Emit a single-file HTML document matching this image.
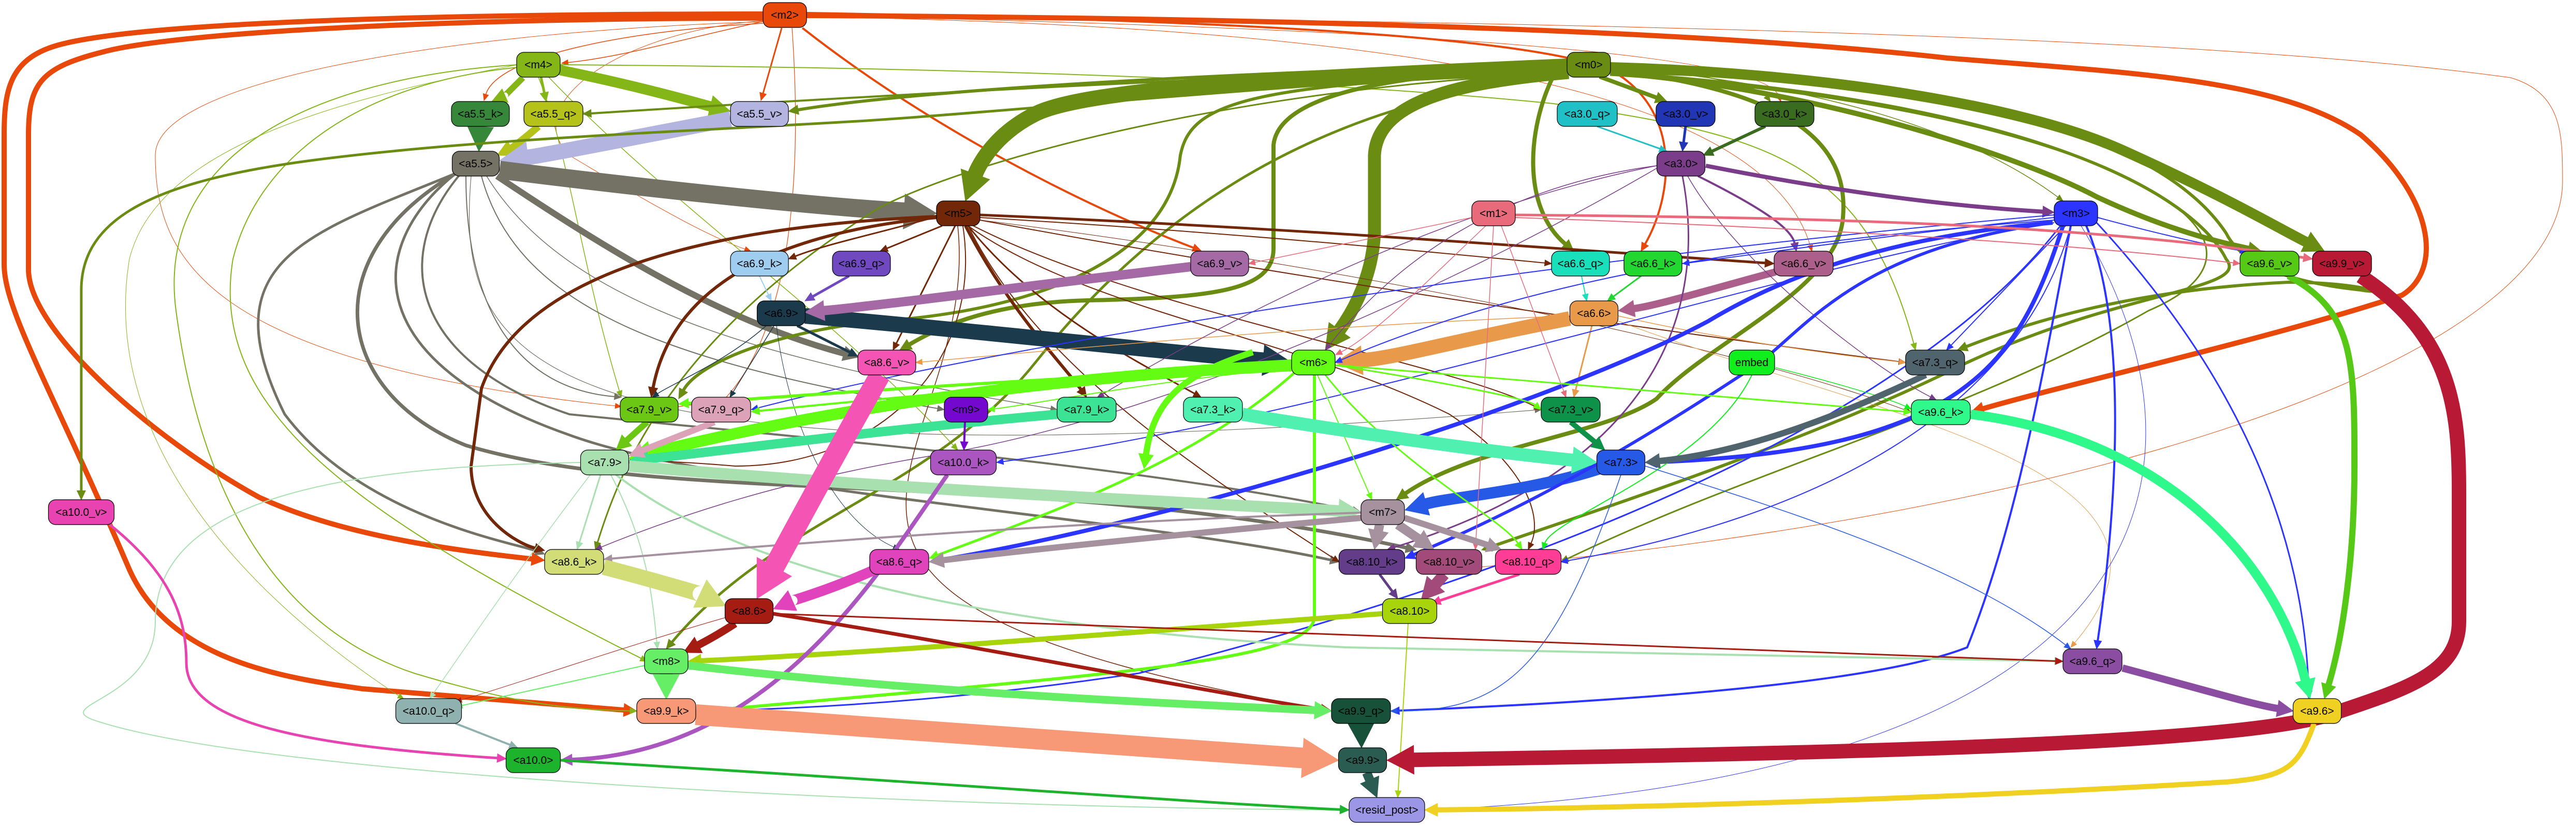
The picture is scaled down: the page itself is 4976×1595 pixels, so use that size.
<!DOCTYPE html>
<html><head><meta charset="utf-8">
<style>
html,body{margin:0;padding:0;background:#fff;}
svg{display:block;}
text{font-family:"Liberation Sans",sans-serif;font-size:21px;fill:#000;}
</style></head>
<body>
<svg id="s" width="4976" height="1595" viewBox="0 0 4976 1595" xmlns="http://www.w3.org/2000/svg">
<rect width="4976" height="1595" fill="#fff"/>
<g id="edges"></g>
<g id="nodes"></g>
</svg>
<script>
var N={
"m2":[1516,29,84,"#e8490a"],"m4":[1040,125,84,"#84b617"],"a5.5_k":[928,220,112,"#36873a"],
"a5.5_q":[1069,220,114,"#b5c21a"],"a5.5_v":[1467,220,112,"#b3b4e0"],"a5.5":[919,316,91,"#747265"],
"a6.9_k":[1467,509,112,"#9fcdef"],"a6.9":[1509,605,93,"#1b3a4c"],"a6.9_q":[1664,509,112,"#7048bf"],
"m5":[1851,412,84,"#722708"],"a6.9_v":[2356,509,112,"#a569a6"],"m1":[2885,412,84,"#e96b7b"],
"m0":[3069,125,84,"#6b8c12"],"a3.0_q":[3066,220,116,"#1fc1c7"],"a3.0_v":[3256,220,114,"#2136b5"],
"a3.0_k":[3447,220,114,"#3a6c20"],"a3.0":[3247,316,93,"#7b3d8a"],"m3":[4010,412,84,"#2c34ff"],
"a6.6_q":[3053,509,112,"#1adfbb"],"a6.6_k":[3193,509,112,"#22d830"],"a6.6_v":[3484,509,114,"#ab5f8a"],
"a6.6":[3079,605,93,"#e89a4a"],"a9.6_v":[4384,509,114,"#56c816"],"a9.9_v":[4524,509,114,"#b81a36"],
"a8.6_v":[1713,700,112,"#f455b4"],"m6":[2537,700,84,"#63fc12"],"embed":[3384,700,88,"#10ef1d"],
"a7.3_q":[3738,700,114,"#4f646d"],"a9.6_k":[3749,796,114,"#2ff98a"],"a7.9_v":[1254,791,112,"#6cc614"],
"a7.9_q":[1393,791,114,"#dba2b8"],"m9":[1866,791,84,"#7508cf"],"a7.9_k":[2099,791,114,"#3ce395"],
"a7.3_k":[2343,791,114,"#4ff0b0"],"a7.3_v":[3034,791,114,"#0e9148"],"a7.9":[1168,893,93,"#a8e0b0"],
"a10.0_k":[1861,893,127,"#ab56c0"],"a7.3":[3131,893,93,"#2659e6"],"a10.0_v":[157,989,127,"#e843b0"],
"m7":[2671,989,84,"#a6919f"],"a8.6_k":[1109,1085,114,"#d3dd78"],"a8.6_q":[1737,1085,114,"#e043bc"],
"a8.10_k":[2650,1085,127,"#633c8a"],"a8.10_v":[2799,1085,127,"#a24b7a"],"a8.10_q":[2952,1085,127,"#ff3d96"],
"a8.6":[1447,1180,93,"#a51c12"],"a8.10":[2723,1180,105,"#a8d40c"],"m8":[1287,1277,84,"#66ef66"],
"a9.6_q":[4042,1277,114,"#8a4da2"],"a10.0_q":[828,1373,127,"#8fb1b0"],"a9.9_k":[1287,1373,114,"#f79876"],
"a9.9_q":[2629,1373,114,"#17513a"],"a9.6":[4476,1373,93,"#f0d020"],"a10.0":[1030,1468,105,"#1db32c"],
"a9.9":[2632,1468,93,"#2a5c52"],"resid_post":[2679,1564,146,"#9b97e6"]
};
var E=[
["#e8490a",1.5,"M1480,40 C1300,80 1200,110 1085,122"],
["#e8490a",3,"M1510,54 L1470,194"],
["#e8490a",1.5,"M1474,45 C1200,60 960,110 935,194"],
["#e8490a",4,"M1550,54 C1800,250 2100,400 2320,484"],
["#e8490a",4,"M1558,25 C2500,40 3000,80 3120,140 C3250,220 3230,380 3170,485"],
["#e8490a",1.2,"M1530,54 C1540,200 1560,600 1400,770 C1300,790 1280,790 1260,767"],
["#e8490a",1,"M1474,40 C1200,60 1000,200 1100,300 C1300,420 1380,460 1450,485"],
["#e8490a",1,"M1558,28 C2800,40 4200,60 4850,150 C4950,180 4950,260 4950,350 C4950,700 4000,1000 2800,1100"],
["#e8490a",1,"M1558,30 C2500,50 3400,90 3440,196"],
["#e8490a",1,"M1558,32 C2600,50 3400,150 3500,485"],
["#e8490a",1,"M1474,42 C900,60 300,150 300,300 C300,500 400,700 1200,785"],
["#e8490a",10,"M1474,27 C900,27 300,40 120,85 C20,110 8,170 8,260 L8,510 C8,600 100,750 250,1100 C330,1280 560,1310 700,1330 L1230,1373"],
["#e8490a",10,"M1474,35 C900,35 350,60 200,100 C80,130 55,160 55,260 L55,520 C55,640 300,850 500,960 C650,1030 850,1060 1052,1082"],
["#e8490a",10,"M1558,30 C2500,35 3300,60 3761,112 C4100,140 4400,150 4560,260 C4700,380 4720,520 4640,570 C4400,650 4000,740 3807,796"],
["#84b617",20,"M1080,135 C1250,170 1350,200 1411,215"],
["#84b617",12,"M1010,150 C990,170 975,185 950,196"],
["#84b617",5,"M1045,149 L1055,196"],
["#84b617",2,"M1000,130 C700,160 500,300 450,500 C400,800 700,1000 1250,1277"],
["#84b617",2,"M1000,125 C600,150 300,300 340,600 C380,900 500,1200 800,1300 C1000,1360 1100,1370 1230,1373"],
["#84b617",2,"M1082,125 C1800,130 2500,150 3000,200 C3400,260 3600,300 3700,676"],
["#84b617",1.5,"M1040,149 C1100,300 1120,500 1200,767"],
["#84b617",1.5,"M1060,149 C1300,400 1600,600 1850,869"],
["#84b617",1,"M1000,125 C600,200 300,300 250,500 C200,800 400,1100 780,1350"],
["#36873a",25,"M928,244 L925,292"],
["#b5c21a",14,"M1040,244 C1010,270 990,285 960,300"],
["#b3b4e0",30,"M1411,230 C1200,270 1050,300 965,310"],
["#747265",35,"M965,328 C1300,370 1600,400 1809,412"],
["#747265",12,"M960,340 C1200,500 1400,620 1657,690"],
["#747265",7,"M880,335 C600,500 650,760 900,860 C1300,980 2000,900 2736,1062"],
["#747265",5,"M880,335 C700,480 700,700 1100,840 C1400,950 2200,1000 2587,1085"],
["#747265",5,"M880,335 C600,450 400,500 550,800 C700,1000 1000,1050 1052,1070"],
["#747265",4,"M890,335 C750,500 800,700 1100,800 C1600,850 2200,900 2629,989"],
["#747265",2,"M900,340 C900,600 1000,750 1200,767"],
["#747265",2,"M930,340 C1000,600 1300,700 1824,791"],
["#747265",1.5,"M940,340 C1100,600 1500,700 2042,791"],
["#747265",1.2,"M910,340 C880,700 1000,950 2977,791"],
["#6b8c12",30,"M3027,128 C2500,150 2100,170 2000,220 C1920,260 1890,320 1865,388"],
["#6b8c12",25,"M3030,140 C2800,160 2660,200 2655,300 L2655,450 C2650,550 2600,620 2560,676"],
["#6b8c12",20,"M3110,130 C3500,140 3900,200 4100,290 C4300,380 4400,440 4490,485"],
["#6b8c12",10,"M3110,140 C3500,170 3900,300 4050,380 C4200,450 4300,470 4368,485"],
["#6b8c12",8,"M3027,130 C2700,140 2470,180 2460,280 L2460,480 C2460,560 2350,575 2100,580 C1900,585 1800,640 1738,676"],
["#6b8c12",6,"M3027,122 C2400,140 1800,170 1523,215"],
["#6b8c12",4,"M3027,126 C2300,150 1600,190 1126,220"],
["#6b8c12",5,"M3027,135 C2500,160 1900,220 1640,235 C1300,255 900,270 600,310 C300,350 157,420 157,560 L157,965"],
["#6b8c12",8,"M3090,148 L3220,196"],
["#6b8c12",8,"M3000,148 C2950,250 2940,400 3040,485"],
["#6b8c12",2,"M3110,128 C3300,140 3400,170 3420,196"],
["#6b8c12",1.5,"M3110,130 C3500,160 3800,250 3985,388"],
["#6b8c12",8,"M3110,135 C3500,180 3570,300 3560,420 C3550,560 3300,660 3200,770 C3100,840 2850,860 2697,965"],
["#6b8c12",6,"M3110,140 C4000,200 4250,400 4300,500 C4350,560 4100,560 3800,700 C3500,850 3100,980 2862,1062"],
["#6b8c12",6,"M3110,140 C3900,150 4200,300 4300,450 C4330,510 4420,545 4560,560 C4620,570 4560,545 4420,545 C4100,560 3900,630 3781,676"],
["#6b8c12",6,"M3027,140 C2400,160 2300,200 2280,300 C2260,500 2000,600 1700,620 C1500,640 1350,700 1311,770"],
["#6b8c12",5,"M3027,145 C2500,200 2200,450 2000,700 C1800,950 1500,1000 1287,1253"],
["#6b8c12",3,"M3110,145 C4000,200 4500,450 4150,600 C3800,800 3400,900 3015,1085"],
["#6b8c12",3,"M3027,140 C2400,170 1900,300 1700,400 C1300,650 1200,900 1150,1061"],
["#722708",6,"M1810,418 C1300,440 1000,550 930,750 L910,900 C910,1000 1000,1050 1052,1063"],
["#722708",6,"M1810,420 C1500,450 1300,550 1258,767"],
["#722708",3,"M1810,418 C1700,450 1600,470 1523,500"],
["#722708",3,"M1820,436 L1700,485"],
["#722708",3,"M1845,436 L1725,676"],
["#722708",6,"M1865,436 C1950,600 2050,700 2099,767"],
["#722708",3,"M1870,436 C2000,600 2200,700 2320,767"],
["#722708",5,"M1893,415 C2500,440 3000,480 3427,509"],
["#722708",2,"M1893,420 C2400,450 2800,490 2997,509"],
["#722708",2,"M1880,436 C2200,600 2800,700 2977,791"],
["#722708",2,"M1893,425 C2300,500 2900,600 3681,700"],
["#722708",2,"M1870,436 C2000,700 2300,900 2587,1085"],
["#722708",2,"M1870,436 C2100,600 2500,650 2800,800 C2950,900 2980,1000 2952,1061"],
["#722708",2,"M1860,436 C1900,700 1700,900 1420,900 C1300,890 1250,890 1215,893"],
["#722708",1.5,"M1850,436 C1900,900 1300,1150 2572,1373"],
["#722708",1,"M1893,425 C2500,500 3300,650 3692,796"],
["#1b3a4c",30,"M1555,610 C1900,640 2250,680 2495,700"],
["#a569a6",18,"M2300,515 C2000,550 1700,590 1555,603"],
["#7048bf",5,"M1640,533 L1555,581"],
["#9fcdef",2,"M1467,533 L1490,581"],
["#1b3a4c",5,"M1540,629 L1657,688"],
["#1b3a4c",1.5,"M1480,629 C1400,700 1300,740 1260,767"],
["#1b3a4c",1.5,"M1495,629 L1410,767"],
["#1b3a4c",1,"M1500,629 C1520,800 1600,1000 1737,1061"],
["#e89a4a",28,"M3032,615 C2800,660 2700,690 2579,700"],
["#ab5f8a",14,"M3430,525 C3300,560 3200,590 3126,600"],
["#1adfbb",2,"M3055,533 L3065,581"],
["#22d830",3,"M3170,533 L3105,581"],
["#e89a4a",3,"M3075,629 L3040,767"],
["#e89a4a",1.5,"M3032,610 C2500,630 2000,680 1769,700"],
["#e89a4a",1.5,"M3126,610 C3300,650 3500,680 3681,700"],
["#e89a4a",1,"M3126,620 C3600,800 4300,900 4000,1250"],
["#7b3d8a",8,"M3295,320 C3600,380 3800,400 3968,410"],
["#7b3d8a",4,"M3280,340 C3400,400 3460,440 3470,485"],
["#2136b5",5,"M3256,244 L3250,292"],
["#1fc1c7",3,"M3085,244 L3220,292"],
["#3a6c20",6,"M3410,244 L3290,300"],
["#7b3d8a",3,"M3250,340 C3300,600 3200,900 2680,1061"],
["#7b3d8a",1.5,"M3200,320 C2900,360 2700,500 2560,676"],
["#7b3d8a",1.5,"M3200,320 C2800,400 2400,600 2120,767"],
["#7b3d8a",1.5,"M3260,340 C3350,500 3600,700 3740,772"],
["#7b3d8a",1.5,"M3200,325 C2900,500 2300,800 1800,880 C1500,930 1300,1000 1150,1061"],
["#2c34ff",8,"M3965,430 C3600,460 3400,560 3300,620 C3000,780 2300,1000 1795,1085"],
["#2c34ff",8,"M3985,436 C3900,700 3800,870 3178,893"],
["#2659e6",22,"M3090,905 C2950,950 2800,960 2714,985"],
["#2c34ff",6,"M3965,430 C3600,480 3500,620 3400,700 C3100,900 2900,1000 2714,1078"],
["#2c34ff",4,"M4030,436 C4100,600 4100,900 4050,1253"],
["#2c34ff",4,"M4000,436 C3950,700 3900,1000 3800,1250 C3600,1330 3000,1360 2687,1373"],
["#2c34ff",3,"M3980,436 C3700,800 3000,1100 2200,1300 C1800,1360 1500,1370 1345,1373"],
["#2c34ff",3,"M4050,430 C4300,700 4450,1000 4460,1349"],
["#2c34ff",2,"M4052,420 C4200,460 4300,480 4340,485"],
["#2c34ff",2,"M3968,420 C3600,460 3400,490 3250,509"],
["#2c34ff",2,"M3990,436 L3760,676"],
["#2c34ff",2,"M3968,425 C3500,460 3000,520 2579,700"],
["#2c34ff",2,"M3968,430 C3500,500 2600,800 1925,893"],
["#2c34ff",2,"M4000,436 C3900,800 3500,1000 3015,1085"],
["#2c34ff",1,"M4020,436 C4300,900 4200,1500 2752,1564"],
["#2c34ff",2,"M3968,415 C3000,500 2000,650 1451,791"],
["#e96b7b",5,"M2927,415 C3500,420 4000,430 4467,500"],
["#e96b7b",2,"M2927,420 C3500,440 4000,470 4327,509"],
["#e96b7b",1.5,"M2843,420 L2412,509"],
["#e96b7b",1.5,"M2870,436 C2750,550 2650,650 2580,685"],
["#e96b7b",1.5,"M2885,436 L2850,1061"],
["#e96b7b",1.5,"M2900,436 L3025,767"],
["#63fc12",22,"M2495,705 C2000,730 1600,790 1215,885"],
["#63fc12",6,"M2539,724 L2539,1190 C2539,1260 2300,1290 1660,1346 C1500,1360 1400,1370 1344,1373"],
["#63fc12",5,"M2500,720 C2300,900 2000,1000 1795,1078"],
["#63fc12",6,"M2495,710 C2000,730 1600,760 1311,780"],
["#63fc12",4,"M2495,715 C2000,740 1700,770 1451,795"],
["#63fc12",3,"M2560,724 C2700,900 2900,1000 2940,1061"],
["#63fc12",3,"M2579,705 C2800,740 2950,770 2977,791"],
["#63fc12",3,"M2579,705 C3000,740 3400,770 3692,796"],
["#63fc12",2,"M2495,710 C2200,740 2000,780 1908,791"],
["#63fc12",2,"M2545,724 L2650,965"],
["#63fc12",12,"M2420,680 C2300,720 2230,760 2210,905"],
["#10ef1d",2,"M3384,724 C3300,900 3000,1000 2980,1061"],
["#10ef1d",1.5,"M3430,710 C3550,740 3650,770 3692,790"],
["#4ff0b0",25,"M2400,800 C2700,850 2950,880 3085,893"],
["#0e9148",10,"M3034,815 L3100,869"],
["#4f646d",12,"M3720,724 C3600,780 3400,870 3178,893"],
["#3ce395",18,"M2042,800 C1700,830 1400,870 1215,890"],
["#dba2b8",12,"M1380,815 L1215,880"],
["#6cc614",12,"M1250,815 L1190,869"],
["#a8e0b0",22,"M1215,900 C1800,950 2300,970 2629,989"],
["#a8e0b0",3,"M1160,917 L1115,1061"],
["#a8e0b0",4,"M1190,917 C1300,1000 1600,1200 2600,1250 C3200,1260 3700,1270 3985,1277"],
["#a8e0b0",2,"M1180,917 C1250,1050 1260,1150 1270,1253"],
["#a8e0b0",1.5,"M1140,917 C1000,1100 900,1250 830,1349"],
["#a8e0b0",2,"M1125,893 C700,900 300,950 300,1200 C300,1350 100,1360 180,1390 C500,1500 1800,1560 2606,1564"],
["#2659e6",1.5,"M3131,917 C3000,1300 2900,1373 2686,1373"],
["#2659e6",1.5,"M3178,900 C3500,1000 3800,1100 4000,1253"],
["#a6919f",12,"M2629,1000 C2300,1030 2000,1060 1795,1085"],
["#a6919f",18,"M2665,1013 L2655,1061"],
["#a6919f",18,"M2700,1013 L2770,1061"],
["#a6919f",12,"M2713,1000 L2900,1061"],
["#a6919f",4,"M2629,990 C2000,1010 1400,1060 1166,1080"],
["#633c8a",5,"M2665,1109 L2700,1156"],
["#a24b7a",22,"M2790,1109 L2745,1160"],
["#ff3d96",5,"M2935,1109 L2765,1165"],
["#a8d40c",10,"M2670,1185 C2200,1220 1700,1260 1329,1277"],
["#a8d40c",2,"M2720,1204 L2700,1540"],
["#ab56c0",8,"M1830,917 C1700,1100 1500,1450 1083,1468"],
["#7508cf",4,"M1864,815 L1862,869"],
["#f455b4",40,"M1700,724 C1600,900 1520,1050 1462,1156"],
["#d3dd78",30,"M1166,1095 C1300,1130 1360,1150 1402,1170"],
["#e043bc",20,"M1690,1100 C1600,1140 1530,1160 1494,1176"],
["#a51c12",15,"M1420,1204 C1380,1230 1350,1245 1320,1260"],
["#a51c12",7,"M1493,1185 C1900,1250 2300,1330 2572,1373"],
["#a51c12",3,"M1493,1185 C2500,1230 3500,1260 3985,1277"],
["#a51c12",1,"M1410,1190 C1200,1250 1000,1320 880,1355"],
["#66ef66",25,"M1287,1301 L1287,1350"],
["#66ef66",15,"M1329,1285 C1800,1340 2300,1360 2572,1373"],
["#66ef66",2,"M1245,1285 L880,1365"],
["#f79876",40,"M1344,1380 C1900,1420 2300,1450 2586,1468"],
["#b81a36",28,"M4560,533 C4740,650 4750,800 4750,950 L4750,1200 C4750,1300 4650,1330 4500,1380 C4300,1440 3500,1455 2679,1468"],
["#17513a",25,"M2629,1397 L2630,1444"],
["#2a5c52",18,"M2640,1492 L2660,1540"],
["#f0d020",10,"M4470,1397 C4440,1480 4420,1500 4300,1510 C3800,1540 3200,1560 2752,1564"],
["#8a4da2",14,"M4100,1290 C4250,1330 4350,1360 4430,1373"],
["#2ff98a",18,"M3807,800 C4200,850 4400,1100 4462,1349"],
["#56c816",12,"M4420,533 C4548,600 4548,700 4548,900 C4548,1100 4520,1250 4490,1349"],
["#1db32c",5,"M1083,1468 C1800,1510 2300,1550 2606,1564"],
["#e843b0",5,"M212,1013 C320,1100 360,1180 360,1280 C360,1400 600,1440 978,1465"],
["#8fb1b0",4,"M880,1397 L1000,1444"]
];
var ns="http://www.w3.org/2000/svg";
var gN=document.getElementById("nodes"),gE=document.getElementById("edges");
function el(t,a,p){var e=document.createElementNS(ns,t);for(var k in a)e.setAttribute(k,a[k]);p.appendChild(e);return e;}
for(var k in N){var n=N[k];
 el("rect",{x:n[0]-n[2]/2,y:n[1]-24,width:n[2],height:48,rx:14,ry:14,fill:n[3],stroke:"#000","stroke-width":1.2},gN);
 var t=el("text",{x:n[0],y:n[1]+7,"text-anchor":"middle"},gN);t.textContent=k==="embed"?"embed":"<"+k+">";}
E.forEach(function(e){
 var c=e[0],w=e[1],d=e[2];
 var nums=d.match(/-?\d+(\.\d+)?/g).map(Number);
 var L=nums.length,tx=nums[L-2],ty=nums[L-1],px=nums[L-4],py=nums[L-3];
 var dx=tx-px,dy=ty-py,len=Math.sqrt(dx*dx+dy*dy)||1;dx/=len;dy/=len;
 var al=10+w*1.5,ah=4+w*0.85;
 var bx=tx-dx*al,by=ty-dy*al;
 var dd=d.replace(/([ A-Z])(-?[\d.]+),(-?[\d.]+)\s*$/,function(m,p1){return p1+bx.toFixed(1)+","+by.toFixed(1);});
 el("path",{d:dd,fill:"none",stroke:c,"stroke-width":w,"stroke-linecap":"butt"},gE);
 var nx=-dy,ny=dx;
 el("polygon",{points:tx+","+ty+" "+(bx+nx*ah)+","+(by+ny*ah)+" "+(bx-nx*ah)+","+(by-ny*ah),fill:c,stroke:c,"stroke-width":1},gE);
});
</script>
</body></html>
